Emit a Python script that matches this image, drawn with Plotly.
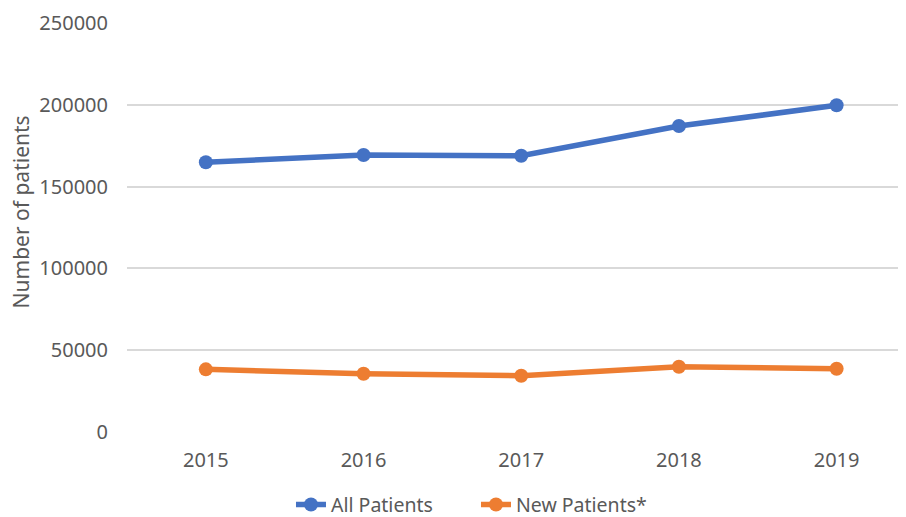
import plotly.graph_objects as go

years = ["2015", "2016", "2017", "2018", "2019"]
all_patients = [164900, 169300, 168900, 187000, 199700]
new_patients = [38300, 35600, 34400, 39900, 38700]
y_ticks = [0, 50000, 100000, 150000, 200000, 250000]

FONT = "Noto Sans"
TXT = "#595959"

fig = go.Figure()
fig.add_trace(go.Scatter(x=years, y=all_patients, name="All Patients", mode="lines+markers",
                         line=dict(color="#4472C4", width=5.5), marker=dict(size=14, color="#4472C4")))
fig.add_trace(go.Scatter(x=years, y=new_patients, name="New Patients*", mode="lines+markers",
                         line=dict(color="#ED7D31", width=5.5), marker=dict(size=14, color="#ED7D31")))

fig.update_layout(
    width=898, height=509,
    margin=dict(l=119, r=0, t=15, b=85, autoexpand=False),
    plot_bgcolor="white", paper_bgcolor="white",
    font=dict(family=FONT, size=20, color=TXT),
    showlegend=True,
    legend=dict(orientation="h", x=0.448, xanchor="center", y=-0.178, yanchor="middle",
                entrywidth=140, entrywidthmode="pixels",
                font=dict(size=19.5, color=TXT)),
    xaxis=dict(type="category", range=[-0.5, 4.44], showgrid=False, showline=False, zeroline=False,
               automargin=False,
               ticks="outside", ticklen=10, tickcolor="rgba(0,0,0,0)",
               tickfont=dict(size=20, color=TXT)),
    yaxis=dict(range=[0, 250000], tickvals=y_ticks, tickformat="d", automargin=False,
               showgrid=True, gridcolor="#D9D9D9", gridwidth=1.5, zeroline=False, showline=False,
               ticks="outside", ticklen=14, tickcolor="rgba(0,0,0,0)",
               tickfont=dict(size=20, color=TXT)),
    annotations=[dict(text="Number of patients", xref="paper", yref="paper",
                      x=-0.136, y=0.537, xanchor="center", yanchor="middle",
                      textangle=-90, showarrow=False, font=dict(size=21, color=TXT))],
)

fig.write_html("out.html")
